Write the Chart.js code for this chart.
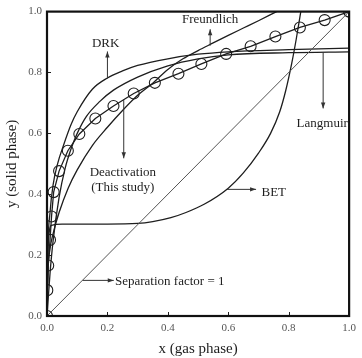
<!DOCTYPE html>
<html>
<head>
<meta charset="utf-8">
<script src="https://cdn.jsdelivr.net/npm/chart.js@4/dist/chart.umd.min.js"></script>
<style>
  html, body { margin: 0; padding: 0; background: #fff; }
  #wrap { width: 362px; height: 358px; }
</style>
</head>
<body>
<div id="wrap"><canvas id="chart"></canvas></div>
<script>
// Deactivation model (this study), circles
const deactX = [0, 0.001, 0.004, 0.01, 0.015, 0.022, 0.04, 0.069, 0.107, 0.16, 0.22, 0.287, 0.357, 0.435, 0.511, 0.593, 0.674, 0.756, 0.837, 0.919, 1.0];
const deactY = [0, 0.085, 0.166, 0.25, 0.327, 0.407, 0.476, 0.543, 0.598, 0.649, 0.69, 0.731, 0.766, 0.796, 0.828, 0.861, 0.886, 0.918, 0.948, 0.972, 1.0];

// DRK
const drkX = [0, 0.003, 0.01, 0.02, 0.035, 0.055, 0.08, 0.1, 0.15, 0.2, 0.25, 0.3, 0.4, 0.5, 0.6, 0.8, 1.0];
const drkY = [0, 0.22, 0.34, 0.43, 0.5, 0.562, 0.63, 0.671, 0.745, 0.782, 0.805, 0.823, 0.845, 0.86, 0.868, 0.875, 0.88];

// Langmuir
const langX = [0, 0.01, 0.02, 0.04, 0.06, 0.08, 0.1, 0.13, 0.175, 0.22, 0.3, 0.4, 0.5, 0.6, 0.8, 1.0];
const langY = [0, 0.14, 0.245, 0.39, 0.485, 0.55, 0.6, 0.655, 0.705, 0.742, 0.785, 0.822, 0.845, 0.858, 0.865, 0.868];

// Freundlich
const freuX = [0, 0.003, 0.01, 0.02, 0.04, 0.07, 0.1, 0.15, 0.2, 0.25, 0.3, 0.35, 0.4, 0.45, 0.5, 0.55, 0.6, 0.65, 0.7, 0.76];
const freuY = [0, 0.14, 0.22, 0.27, 0.34, 0.42, 0.48, 0.56, 0.62, 0.675, 0.725, 0.765, 0.81, 0.845, 0.872, 0.897, 0.922, 0.946, 0.97, 1.0];

// BET
const betX = [0, 0.003, 0.008, 0.015, 0.05, 0.1, 0.2, 0.3, 0.35, 0.41, 0.46, 0.52, 0.6, 0.65, 0.7, 0.74, 0.77, 0.79, 0.81, 0.825, 0.84];
const betY = [0, 0.2, 0.28, 0.298, 0.302, 0.302, 0.302, 0.304, 0.31, 0.323, 0.34, 0.367, 0.42, 0.47, 0.535, 0.6, 0.67, 0.74, 0.83, 0.91, 1.0];

// Separation factor = 1
const diagX = [0, 1];
const diagY = [0, 1];

const tickValues = [0, 0.2, 0.4, 0.6, 0.8, 1.0];

// labels and arrows (data coordinates)
const notes = [
  { lines: ['DRK'], x: 0.194, y: 0.894, align: 'center' },
  { lines: ['Freundlich'], x: 0.54, y: 0.975, align: 'center' },
  { lines: ['Deactivation', '(This study)'], x: 0.251, y: 0.47, align: 'center' },
  { lines: ['Langmuir'], x: 0.911, y: 0.633, align: 'center' },
  { lines: ['BET'], x: 0.71, y: 0.405, align: 'left' },
  { lines: ['Separation factor = 1'], x: 0.225, y: 0.112, align: 'left' }
];
const arrows = [
  { from: [0.2, 0.78], to: [0.2, 0.869] },
  { from: [0.54, 0.888], to: [0.54, 0.942] },
  { from: [0.254, 0.71], to: [0.254, 0.518] },
  { from: [0.914, 0.866], to: [0.914, 0.682] },
  { from: [0.596, 0.416], to: [0.692, 0.416] },
  { from: [0.118, 0.117], to: [0.221, 0.117] }
];

const serif = "'Liberation Serif', 'Times New Roman', serif";
const ink = '#1e1e1e';

function pts(xs, ys) {
  return xs.map((x, i) => ({ x: x, y: ys[i] }));
}

function curve(label, xs, ys, extra) {
  return Object.assign({
    label: label,
    data: pts(xs, ys),
    showLine: true,
    borderColor: ink,
    borderWidth: 1.3,
    pointRadius: 0,
    cubicInterpolationMode: 'monotone',
    fill: false
  }, extra || {});
}

const framePlugin = {
  id: 'frame',
  afterDatasetsDraw(chart) {
    const ctx = chart.ctx;
    const a = chart.chartArea;
    const xs = chart.scales.x;
    const ys = chart.scales.y;
    ctx.save();

    // inner ticks
    ctx.strokeStyle = ink;
    ctx.lineWidth = 1;
    tickValues.slice(1, -1).forEach(v => {
      const px = Math.round(xs.getPixelForValue(v)) + 0.5;
      ctx.beginPath();
      ctx.moveTo(px, a.bottom);
      ctx.lineTo(px, a.bottom - 4);
      ctx.stroke();
      const py = Math.round(ys.getPixelForValue(v)) + 0.5;
      ctx.beginPath();
      ctx.moveTo(a.left, py);
      ctx.lineTo(a.left + 4, py);
      ctx.stroke();
    });

    // box
    ctx.lineWidth = 2.2;
    ctx.strokeStyle = '#111';
    ctx.strokeRect(a.left, a.top, a.right - a.left, a.bottom - a.top);

    // arrows
    ctx.lineWidth = 1;
    ctx.strokeStyle = '#333';
    ctx.fillStyle = '#333';
    arrows.forEach(ar => {
      const x1 = xs.getPixelForValue(ar.from[0]);
      const y1 = ys.getPixelForValue(ar.from[1]);
      const x2 = xs.getPixelForValue(ar.to[0]);
      const y2 = ys.getPixelForValue(ar.to[1]);
      ctx.beginPath();
      ctx.moveTo(x1, y1);
      ctx.lineTo(x2, y2);
      ctx.stroke();
      const ang = Math.atan2(y2 - y1, x2 - x1);
      const hl = 6, hw = 2.2;
      ctx.beginPath();
      ctx.moveTo(x2, y2);
      ctx.lineTo(x2 - hl * Math.cos(ang) + hw * Math.sin(ang), y2 - hl * Math.sin(ang) - hw * Math.cos(ang));
      ctx.lineTo(x2 - hl * Math.cos(ang) - hw * Math.sin(ang), y2 - hl * Math.sin(ang) + hw * Math.cos(ang));
      ctx.closePath();
      ctx.fill();
    });

    // labels
    ctx.fillStyle = ink;
    ctx.font = '13px ' + serif;
    ctx.textBaseline = 'middle';
    notes.forEach(n => {
      ctx.textAlign = n.align;
      const px = xs.getPixelForValue(n.x);
      const py = ys.getPixelForValue(n.y);
      n.lines.forEach((t, i) => ctx.fillText(t, px, py + i * 15));
    });
    ctx.restore();
  }
};

new Chart(document.getElementById('chart'), {
  type: 'scatter',
  data: {
    datasets: [
      curve('Separation factor = 1', diagX, diagY, { borderColor: '#555', borderWidth: 1, cubicInterpolationMode: 'default', tension: 0 }),
      curve('DRK', drkX, drkY),
      curve('Langmuir', langX, langY),
      curve('Freundlich', freuX, freuY),
      curve('BET', betX, betY),
      curve('Deactivation', deactX, deactY, {
        cubicInterpolationMode: 'default',
        tension: 0,
        pointRadius: 5.5,
        pointBorderWidth: 1.1,
        pointBorderColor: ink,
        pointBackgroundColor: 'rgba(0,0,0,0)'
      })
    ]
  },
  options: {
    responsive: true,
    maintainAspectRatio: false,
    animation: false,
    layout: { padding: { top: 9, right: 8, left: 0, bottom: 0 } },
    plugins: {
      legend: { display: false },
      tooltip: { enabled: false }
    },
    scales: {
      x: {
        type: 'linear',
        min: 0,
        max: 1,
        afterFit: s => { s.height = 42; },
        afterBuildTicks: s => { s.ticks = tickValues.map(v => ({ value: v })); },
        grid: { display: false, drawTicks: false },
        border: { display: false },
        ticks: {
          padding: 6,
          color: '#555',
          font: { family: serif, size: 11 },
          callback: v => v.toFixed(1)
        },
        title: {
          display: true,
          text: 'x (gas phase)',
          color: ink,
          font: { family: serif, size: 15 },
          padding: { top: 2, bottom: 0 }
        }
      },
      y: {
        type: 'linear',
        min: 0,
        max: 1,
        afterFit: s => { s.width = 47; },
        afterBuildTicks: s => { s.ticks = tickValues.map(v => ({ value: v })); },
        grid: { display: false, drawTicks: false },
        border: { display: false },
        ticks: {
          padding: 5,
          color: '#555',
          font: { family: serif, size: 11 },
          callback: v => v.toFixed(1)
        },
        title: {
          display: true,
          text: 'y (solid phase)',
          color: ink,
          font: { family: serif, size: 15 },
          padding: { top: 3, bottom: 2 }
        }
      }
    }
  },
  plugins: [framePlugin]
});
</script>
</body>
</html>
